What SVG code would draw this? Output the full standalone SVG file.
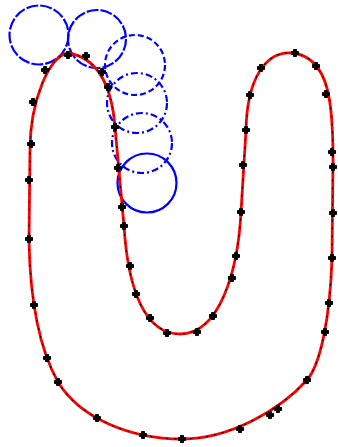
<svg xmlns="http://www.w3.org/2000/svg" xmlns:xlink="http://www.w3.org/1999/xlink" width="338" height="447" viewBox="0 0 338 447">
<style>
.curve{fill:none;stroke:#ff0000;stroke-width:2.8;stroke-linejoin:round}
.trace{fill:none;stroke:#000;stroke-width:1.1;stroke-dasharray:2 6}
.c{fill:none;stroke:#0000ff;stroke-width:2.2}
.d1{stroke-dasharray:12 2}
.d2{stroke-dasharray:6 3}
.d3{stroke-dasharray:7 3 2 3}
</style>
<defs>
<path id="dot" d="M-1.5,-3.5h3v2h2v3h-2v2h-3v-2h-2v-3h2z" fill="#000" stroke="#000" stroke-width="1"/>
</defs>
<g id="circles">
<circle class="c d1" cx="39" cy="35" r="29.5"/>
<circle class="c d1" cx="97" cy="39" r="29"/>
<circle class="c d2" cx="135" cy="65" r="30"/>
<circle class="c d3" cx="137" cy="103" r="30"/>
<circle class="c d3" cx="142" cy="143" r="30"/>
<circle class="c" cx="147" cy="183" r="29.5"/>
</g>
<g id="curve">
<path class="curve" d="M68,53 C50,55 30,100 30,150 L29,240 C30,300 40,350 58,382 C80,418 130,439 182,439 C230,439 280,410 307,380 C320,365 330,320 332,258 L333,160 C333,105 330,58 293,53 C265,50 247,80 246,130 L241,212 C238,270 220,334 180,334 C145,334 128,290 124,226 L115,127 C112,90 100,58 68,53 Z"/>
<path class="trace" d="M68,53 C50,55 30,100 30,150 L29,240 C30,300 40,350 58,382 C80,418 130,439 182,439 C230,439 280,410 307,380 C320,365 330,320 332,258 L333,160 C333,105 330,58 293,53 C265,50 247,80 246,130 L241,212 C238,270 220,334 180,334 C145,334 128,290 124,226 L115,127 C112,90 100,58 68,53 Z"/>
</g>
<g id="points">
<use xlink:href="#dot" x="68" y="55"/><use xlink:href="#dot" x="45" y="70"/><use xlink:href="#dot" x="33" y="102"/>
<use xlink:href="#dot" x="31" y="144"/><use xlink:href="#dot" x="29" y="180"/><use xlink:href="#dot" x="29" y="239"/>
<use xlink:href="#dot" x="34" y="305"/><use xlink:href="#dot" x="47" y="358"/><use xlink:href="#dot" x="58" y="382"/>
<use xlink:href="#dot" x="97" y="418"/><use xlink:href="#dot" x="143" y="435"/><use xlink:href="#dot" x="182" y="439"/>
<use xlink:href="#dot" x="240" y="429"/><use xlink:href="#dot" x="270" y="415"/><use xlink:href="#dot" x="278" y="409"/>
<use xlink:href="#dot" x="307" y="380"/><use xlink:href="#dot" x="325" y="332"/><use xlink:href="#dot" x="329" y="303"/>
<use xlink:href="#dot" x="332" y="258"/><use xlink:href="#dot" x="333" y="213"/><use xlink:href="#dot" x="333" y="167"/>
<use xlink:href="#dot" x="332" y="152"/><use xlink:href="#dot" x="326" y="94"/><use xlink:href="#dot" x="316" y="66"/>
<use xlink:href="#dot" x="295" y="53"/><use xlink:href="#dot" x="261" y="68"/><use xlink:href="#dot" x="250" y="95"/>
<use xlink:href="#dot" x="246" y="130"/><use xlink:href="#dot" x="243" y="165"/><use xlink:href="#dot" x="241" y="212"/>
<use xlink:href="#dot" x="236" y="256"/><use xlink:href="#dot" x="232" y="278"/><use xlink:href="#dot" x="213" y="316"/>
<use xlink:href="#dot" x="197" y="332"/><use xlink:href="#dot" x="167" y="333"/><use xlink:href="#dot" x="150" y="318"/>
<use xlink:href="#dot" x="136" y="294"/><use xlink:href="#dot" x="130" y="266"/><use xlink:href="#dot" x="124" y="226"/>
<use xlink:href="#dot" x="122" y="207"/><use xlink:href="#dot" x="118" y="168"/><use xlink:href="#dot" x="115" y="127"/>
<use xlink:href="#dot" x="108" y="87"/><use xlink:href="#dot" x="102" y="72"/><use xlink:href="#dot" x="86" y="56"/>
</g>
</svg>
